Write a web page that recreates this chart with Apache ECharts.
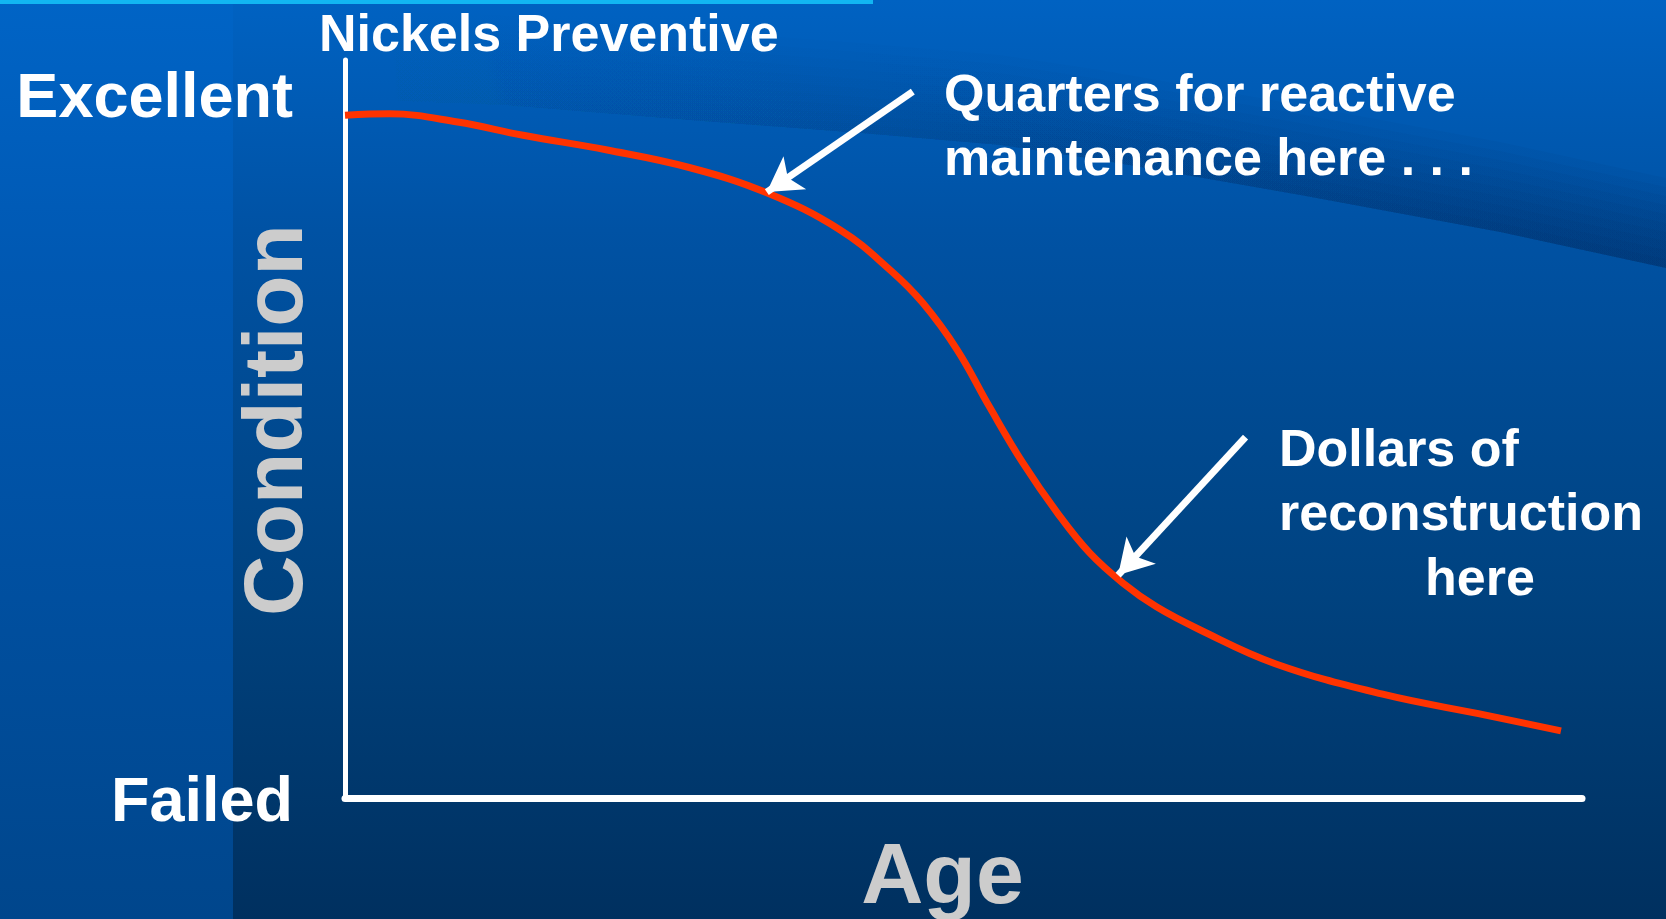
<!DOCTYPE html>
<html>
<head>
<meta charset="utf-8">
<title>Condition vs Age</title>
<script src="https://cdn.jsdelivr.net/npm/echarts@6/dist/echarts.min.js"></script>
<style>
  html, body { margin: 0; padding: 0; }
  #myChart { width: 1666px; height: 919px; }
</style>
</head>
<body>
<div id="myChart"></div>
<script>
// curve (age 0-100, condition 0-100)
const ageValues = [0, 3.6, 9.1, 14.4, 21.2, 27.9, 34.1, 40.0, 44.1, 46.7, 49.5, 52.1, 54.8, 57.6, 60.2, 62.9, 65.6, 69.1, 75.2, 83.8, 92.3, 98.3];
const conditionValues = [92.5, 92.7, 91.6, 89.8, 87.8, 85.4, 82.0, 77.0, 71.5, 67.1, 60.7, 53.0, 45.4, 38.6, 33.2, 29.1, 25.9, 22.8, 18.2, 14.1, 11.2, 9.1];

// y axis tick labels
const yTickValues = [0, 95.5];
const yTickLabels = ['Failed', 'Excellent'];

// annotation arrows: [startAge, startCondition, tipAge, tipCondition]
const arrowNickels = [18.3, 101.1, 10.5, 94.6];
const arrowQuarters = [45.9, 95.7, 34.1, 82.1];
const arrowDollars = [72.8, 48.9, 62.5, 30.2];

const FONT = '"Liberation Sans", Arial, sans-serif';

let myChart = echarts.init(document.getElementById('myChart'));

// darker swoosh in the background (decoration only)
const swoosh = [[300, 98], [500, 105], [700, 121], [860, 133], [1000, 145], [1100, 160], [1300, 195], [1500, 232], [1666, 268], [1700, 276]];
let swooshBands = [];
for (let k = 1; k <= 10; k++) {
  let up = swoosh.map(p => [p[0], p[1] - k * 9]).reverse();
  swooshBands.push({
    type: 'polygon',
    z: -9,
    silent: true,
    shape: { points: swoosh.concat(up) },
    style: {
      fill: {
        type: 'linear', x: 300, y: 0, x2: 1666, y2: 0, global: true,
        colorStops: [
          { offset: 0, color: 'rgba(0,20,60,0)' },
          { offset: 0.5, color: 'rgba(0,20,60,0.018)' },
          { offset: 1, color: 'rgba(0,20,60,0.045)' }
        ]
      }
    }
  });
}

function note(text, x, y, align) {
  return {
    type: 'text',
    z: 50,
    silent: true,
    x: x,
    y: y,
    style: {
      text: text,
      fill: '#ffffff',
      font: 'bold 52px ' + FONT,
      textAlign: align || 'left',
      textVerticalAlign: 'middle'
    }
  };
}

function arrow(a, width, size) {
  return [
    { coord: [a[0], a[1]], symbol: 'none', lineStyle: { color: '#ffffff', width: width, type: 'solid' } },
    { coord: [a[2], a[3]], symbol: 'arrow', symbolSize: size }
  ];
}

let option = {
  animation: false,
  backgroundColor: '#004a94',
  graphic: [
    {
      type: 'rect', z: -10, silent: true,
      shape: { x: 0, y: 0, width: 1666, height: 919 },
      style: {
        fill: {
          type: 'linear', x: 0, y: 0, x2: 0, y2: 1,
          colorStops: [
            { offset: 0, color: '#0062c2' },
            { offset: 0.25, color: '#0052a4' },
            { offset: 0.65, color: '#00427f' },
            { offset: 1, color: '#00305f' }
          ]
        }
      }
    },
    {
      type: 'rect', z: -9, silent: true,
      shape: { x: 0, y: 0, width: 233, height: 919 },
      style: {
        fill: {
          type: 'linear', x: 0, y: 0, x2: 0, y2: 1,
          colorStops: [
            { offset: 0, color: '#0064c6' },
            { offset: 0.3, color: '#0058b2' },
            { offset: 1, color: '#00468c' }
          ]
        }
      }
    },
    ...swooshBands,
    {
      type: 'rect', z: -8, silent: true,
      shape: { x: 0, y: 0, width: 873, height: 4 },
      style: { fill: '#12b6f2' }
    },
    note('Nickels Preventive', 319, 37),
    note('Quarters for reactive', 944, 97),
    note('maintenance here . . .', 944, 161),
    note('Dollars of', 1279, 452),
    note('reconstruction', 1279, 516),
    note('here', 1480, 581, 'center')
  ],
  grid: {
    left: 345,
    top: 60,
    width: 1237,
    height: 738,
    containLabel: false,
    outerBoundsMode: 'none'
  },
  xAxis: {
    type: 'value',
    min: 0,
    max: 100,
    name: 'Age',
    nameLocation: 'middle',
    nameGap: 38,
    nameMoveOverlap: false,
    nameTextStyle: {
      color: '#cccccc',
      fontSize: 86,
      fontWeight: 'bold',
      fontFamily: FONT,
      padding: [0, 42, 0, 0],
      verticalAlign: 'top'
    },
    axisLine: { show: true, lineStyle: { color: '#ffffff', width: 7 } },
    axisTick: { show: false },
    axisLabel: { show: false },
    splitLine: { show: false }
  },
  yAxis: {
    type: 'value',
    min: 0,
    max: 100,
    name: 'Condition',
    nameLocation: 'middle',
    nameRotate: 90,
    nameGap: 24,
    nameMoveOverlap: false,
    nameTextStyle: {
      color: '#cccccc',
      fontSize: 84,
      fontWeight: 'bold',
      fontFamily: FONT,
      padding: [0, 0, 0, 18]
    },
    axisLine: { show: true, lineStyle: { color: '#ffffff', width: 5 } },
    axisTick: { show: false },
    splitLine: { show: false },
    axisLabel: {
      customValues: yTickValues,
      formatter: (v) => {
        let i = yTickValues.indexOf(v);
        return i >= 0 ? yTickLabels[i] : '';
      },
      color: '#ffffff',
      fontSize: 63,
      fontWeight: 'bold',
      fontFamily: FONT,
      verticalAlign: 'top',
      lineHeight: 12,
      margin: 52
    }
  },
  series: [
    {
      name: 'Condition',
      type: 'line',
      data: ageValues.map((v, i) => [v, conditionValues[i]]),
      smooth: 0.4,
      showSymbol: false,
      clip: false,
      lineStyle: { color: '#ff3300', width: 7 },
      markLine: {
        silent: true,
        animation: false,
        label: { show: false },
        emphasis: { disabled: true },
        lineStyle: { color: '#ffffff', type: 'solid' },
        itemStyle: { color: '#ffffff' },
        data: [
          arrow(arrowNickels, 2, [12, 15]),
          arrow(arrowQuarters, 7, [30, 34]),
          arrow(arrowDollars, 7, [30, 34])
        ]
      }
    }
  ]
};
myChart.setOption(option);
</script>
</body>
</html>
